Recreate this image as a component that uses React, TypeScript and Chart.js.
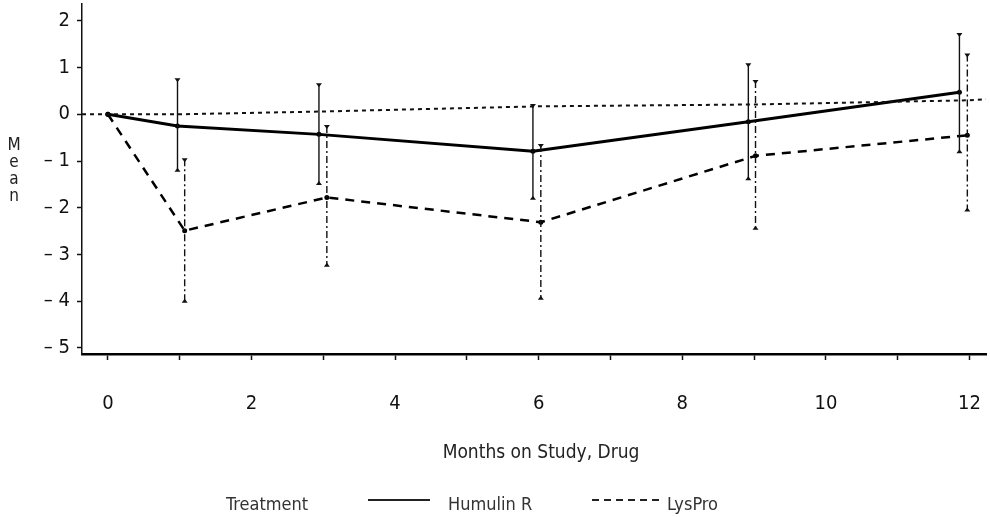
import React, { useEffect, useRef } from "react";
import { Chart, registerables } from "chart.js";

Chart.register(...registerables);

// ---- data ----
const xTickValues = [0, 2, 4, 6, 8, 10, 12];
const yTickValues = [-5, -4, -3, -2, -1, 0, 1, 2];

const humulinX = [0, 0.97, 2.94, 5.92, 8.92, 11.86];
const humulinMean = [0, -0.25, -0.43, -0.79, -0.16, 0.47];
const humulinUpper = [null, 0.75, 0.64, 0.2, 1.07, 1.72];
const humulinLower = [null, -1.21, -1.49, -1.81, -1.39, -0.81];

const lysproX = [0, 1.07, 3.05, 6.03, 9.02, 11.97];
const lysproMean = [0, -2.49, -1.78, -2.31, -0.89, -0.45];
const lysproUpper = [null, -0.96, -0.25, -0.66, 0.71, 1.28];
const lysproLower = [null, -4.01, -3.24, -3.95, -2.45, -2.06];

const refX = [-0.36, 1, 3, 6, 9, 12, 12.23];
const refY = [0, 0, 0.06, 0.17, 0.21, 0.3, 0.32];

const yTitle = "Mean";
const xTitle = "Months on Study, Drug";
const legendTitle = "Treatment";
const seriesNames = ["Humulin R", "LysPro"];

const FONT = "'Liberation Sans Narrow', 'DejaVu Sans Condensed', 'Roboto Condensed', sans-serif";

const zip = (xs: number[], ys: number[]) => xs.map((x, i) => ({ x, y: ys[i] }));

const extrasPlugin = {
  id: "extras",
  afterDatasetsDraw(chart: any) {
    const ctx = chart.ctx;
    const xs = chart.scales.x;
    const ys = chart.scales.y;
    const bars = [
      { xv: humulinX, hi: humulinUpper, lo: humulinLower, dash: [] as number[] },
      { xv: lysproX, hi: lysproUpper, lo: lysproLower, dash: [7, 3, 2, 3] },
    ];
    ctx.save();
    ctx.strokeStyle = "#111";
    ctx.fillStyle = "#111";
    ctx.lineWidth = 1.4;
    for (const b of bars) {
      for (let i = 0; i < b.xv.length; i++) {
        const hi = b.hi[i];
        const lo = b.lo[i];
        if (hi == null || lo == null) continue;
        const px = xs.getPixelForValue(b.xv[i]);
        const py1 = ys.getPixelForValue(hi);
        const py2 = ys.getPixelForValue(lo);
        ctx.setLineDash(b.dash);
        ctx.beginPath();
        ctx.moveTo(px, py1);
        ctx.lineTo(px, py2);
        ctx.stroke();
        ctx.setLineDash([]);
        ctx.beginPath();
        ctx.moveTo(px - 3, py1 - 1);
        ctx.lineTo(px + 3, py1 - 1);
        ctx.lineTo(px, py1 + 3);
        ctx.closePath();
        ctx.fill();
        ctx.beginPath();
        ctx.moveTo(px - 3, py2 + 1);
        ctx.lineTo(px + 3, py2 + 1);
        ctx.lineTo(px, py2 - 3);
        ctx.closePath();
        ctx.fill();
      }
    }
    ctx.restore();
  },
  afterDraw(chart: any) {
    const ctx = chart.ctx;
    ctx.save();
    ctx.fillStyle = "#222";
    ctx.textAlign = "center";
    ctx.textBaseline = "middle";
    ctx.font = `17px ${FONT}`;
    const letters = yTitle.split("");
    letters.forEach((ch, i) => ctx.fillText(ch, 14, 146 + i * 17));
    ctx.font = `19px ${FONT}`;
    ctx.fillText(xTitle, 541, 453);
    ctx.fillStyle = "#333";
    ctx.textAlign = "left";
    ctx.font = `18px ${FONT}`;
    ctx.fillText(legendTitle, 226, 505);
    ctx.strokeStyle = "#222";
    ctx.lineWidth = 2;
    ctx.beginPath();
    ctx.moveTo(368, 500);
    ctx.lineTo(430, 500);
    ctx.stroke();
    ctx.fillText(seriesNames[0], 448, 505);
    ctx.setLineDash([7, 5]);
    ctx.beginPath();
    ctx.moveTo(592, 500);
    ctx.lineTo(663, 500);
    ctx.stroke();
    ctx.setLineDash([]);
    ctx.fillText(seriesNames[1], 667, 505);
    ctx.restore();
  },
};

export default function App() {
  const ref = useRef<HTMLCanvasElement | null>(null);
  useEffect(() => {
    if (!ref.current) return;
    const chart = new Chart(ref.current, {
      type: "line",
      data: {
        datasets: [
          {
            label: "ref",
            data: zip(refX, refY),
            borderColor: "#111",
            borderWidth: 2,
            borderDash: [4, 4],
            pointRadius: 0,
            fill: false,
          },
          {
            label: seriesNames[0],
            data: zip(humulinX, humulinMean),
            borderColor: "#000",
            borderWidth: 3,
            pointRadius: 2.5,
            pointBackgroundColor: "#000",
            pointBorderWidth: 0,
            fill: false,
          },
          {
            label: seriesNames[1],
            data: zip(lysproX, lysproMean),
            borderColor: "#000",
            borderWidth: 2.5,
            borderDash: [9, 7],
            pointRadius: 2.5,
            pointBackgroundColor: "#000",
            pointBorderWidth: 0,
            fill: false,
          },
        ],
      },
      options: {
        animation: false,
        responsive: true,
        maintainAspectRatio: false,
        layout: { padding: { top: 3, left: 0, right: 0, bottom: 0 } },
        plugins: { legend: { display: false }, tooltip: { enabled: false } },
        scales: {
          x: {
            type: "linear",
            min: -0.36,
            max: 12.23,
            afterFit: (s: any) => {
              s.height = 163;
              s.paddingLeft = 0;
              s.paddingRight = 0;
            },
            afterBuildTicks: (s: any) => {
              const t = [];
              for (let v = 0; v <= 12; v++) t.push({ value: v });
              s.ticks = t;
            },
            ticks: {
              includeBounds: false,
              autoSkip: false,
              maxRotation: 0,
              padding: 32,
              color: "#111",
              font: { family: FONT, size: 20 },
              callback: (v: any) => (xTickValues.includes(Number(v)) ? String(v) : ""),
            },
            grid: {
              display: true,
              drawOnChartArea: false,
              tickLength: 6,
              tickColor: "#111",
              tickWidth: 1.5,
            },
            border: { display: true, color: "#000", width: 2.5 },
          },
          y: {
            type: "linear",
            min: -5.13,
            max: 2.36,
            afterFit: (s: any) => {
              s.width = 82;
              s.paddingTop = 0;
              s.paddingBottom = 0;
            },
            afterBuildTicks: (s: any) => {
              s.ticks = yTickValues.map((v) => ({ value: v }));
            },
            ticks: {
              includeBounds: false,
              padding: 7,
              color: "#111",
              font: { family: FONT, size: 20 },
              callback: (v: any) => (Number(v) < 0 ? "\u2013 " + Math.abs(Number(v)) : String(v)),
            },
            grid: {
              display: true,
              drawOnChartArea: false,
              tickLength: 5,
              tickColor: "#111",
              tickWidth: 1.5,
            },
            border: { display: true, color: "#111", width: 1.5, dash: [12, 3] },
          },
        },
      },
      plugins: [extrasPlugin],
    });
    return () => chart.destroy();
  }, []);
  return (
    <div style={{ position: "fixed", left: 0, top: 0, width: 990, height: 517, background: "#fff" }}>
      <canvas ref={ref} />
    </div>
  );
}
